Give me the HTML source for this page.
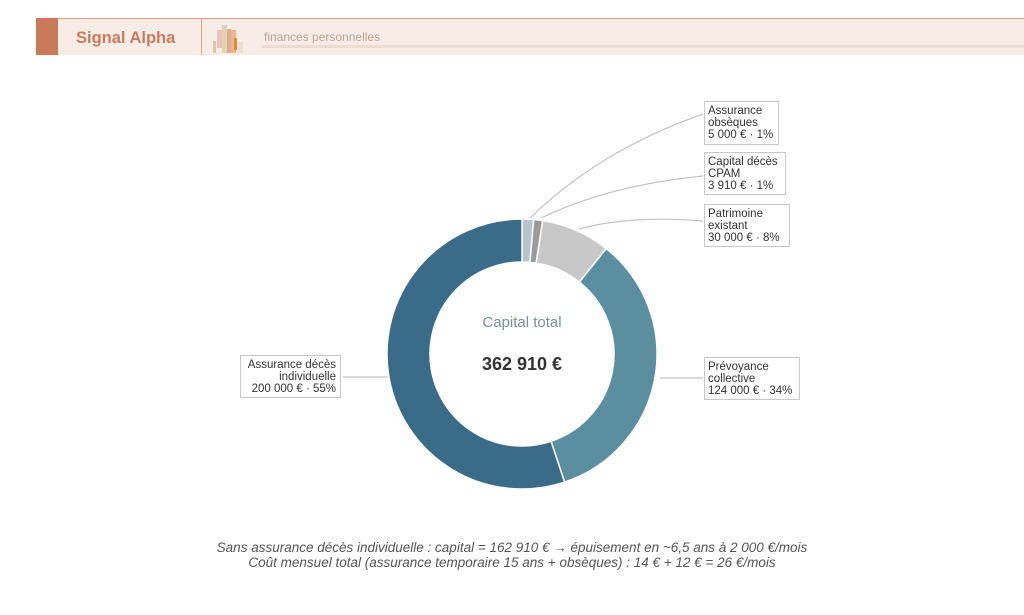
<!DOCTYPE html>
<html><head><meta charset="utf-8"><style>
html,body{margin:0;padding:0;background:#fff;width:1024px;height:615px;overflow:hidden;font-family:"Liberation Sans",sans-serif}
</style></head><body>
<svg width="1024" height="615" xmlns="http://www.w3.org/2000/svg" font-family="Liberation Sans, sans-serif">
<rect x="36" y="18" width="988" height="37" fill="#f8ece6"/>
<line x1="36" y1="18.5" x2="1024" y2="18.5" stroke="#dc9e88" stroke-width="1"/>
<rect x="36" y="18" width="22" height="37" fill="#c87b5a"/>
<text x="76" y="43" font-size="16.5" font-weight="bold" fill="#c97b5e">Signal Alpha</text>
<line x1="201.5" y1="18" x2="201.5" y2="55" stroke="#d9a592"/>
<rect x="213" y="41" width="3" height="12" fill="#e0c8b0"/>
<rect x="217" y="30" width="5" height="18" fill="#eab8b0" opacity="0.8"/>
<rect x="222" y="25" width="5" height="28" fill="#e2d2bc"/>
<rect x="227" y="29" width="4" height="24" fill="#d9b088"/>
<rect x="231" y="30" width="5" height="23" fill="#e8a880" opacity="0.8"/>
<rect x="234" y="38" width="3" height="12" fill="#e08a40"/>
<rect x="237" y="42" width="6" height="11" fill="#ece0d4"/>
<text x="264" y="41" font-size="12" fill="#b9a597">finances personnelles</text>
<rect x="262" y="45" width="762" height="3" fill="#eaded2"/>
<g id="donut"></g>
<g fill="none" stroke="#c4c4c4" stroke-width="1.2">
<path d="M530 218 Q600 150 703 114"/>
<path d="M541 218 Q610 185 703 176"/>
<path d="M579 229 Q630 215 703 221"/>
<line x1="660" y1="378" x2="703" y2="378"/>
<line x1="343" y1="377" x2="388" y2="377"/>
</g>
<g fill="#fff" stroke="#c8c8c8" stroke-width="1">
<rect x="704.5" y="101.5" width="74" height="43"/>
<rect x="704.5" y="152.5" width="81" height="42"/>
<rect x="704.5" y="204.5" width="85" height="42"/>
<rect x="704.5" y="357.5" width="95" height="42"/>
<rect x="240.5" y="355.5" width="100" height="42"/>
</g>
<g font-size="11.5" fill="#333">
<text x="708" y="114">Assurance</text><text x="708" y="126">obsèques</text><text x="708" y="138">5 000 € · 1%</text>
<text x="708" y="165">Capital décès</text><text x="708" y="177">CPAM</text><text x="708" y="189">3 910 € · 1%</text>
<text x="708" y="217">Patrimoine</text><text x="708" y="229">existant</text><text x="708" y="241">30 000 € · 8%</text>
<text x="708" y="370">Prévoyance</text><text x="708" y="382">collective</text><text x="708" y="394">124 000 € · 34%</text>
<g text-anchor="end"><text x="336" y="368">Assurance décès</text><text x="336" y="380">individuelle</text><text x="336" y="392">200 000 € · 55%</text></g>
</g>
<text x="522" y="327" font-size="15" fill="#7890a0" text-anchor="middle">Capital total</text>
<text x="522" y="370" font-size="18" font-weight="bold" fill="#333" text-anchor="middle">362 910 €</text>
<g font-size="13.5" font-style="italic" fill="#555" text-anchor="middle">
<text x="512" y="552">Sans assurance décès individuelle : capital = 162 910 € → épuisement en ~6,5 ans à 2 000 €/mois</text>
<text x="512" y="567">Coût mensuel total (assurance temporaire 15 ans + obsèques) : 14 € + 12 € = 26 €/mois</text>
</g>
</svg>
<script>
var d=[[5000,"#b9c3cc"],[3910,"#9a9a9a"],[30000,"#c8c8c8"],[124000,"#5b8fa0"],[200000,"#3a6b88"]];
var cx=522,cy=354,R=135,r=92,t=362910,a=0,s="";
function p(rad,ang){return (cx+rad*Math.sin(ang)).toFixed(2)+" "+(cy-rad*Math.cos(ang)).toFixed(2);}
d.forEach(function(e){var b=a+e[0]/t*2*Math.PI,l=(b-a)>Math.PI?1:0;
s+='<path d="M'+p(R,a)+' A'+R+' '+R+' 0 '+l+' 1 '+p(R,b)+' L'+p(r,b)+' A'+r+' '+r+' 0 '+l+' 0 '+p(r,a)+' Z" fill="'+e[1]+'" stroke="#fff" stroke-width="1.5"/>';a=b;});
document.getElementById("donut").innerHTML=s;
</script>
</body></html>
